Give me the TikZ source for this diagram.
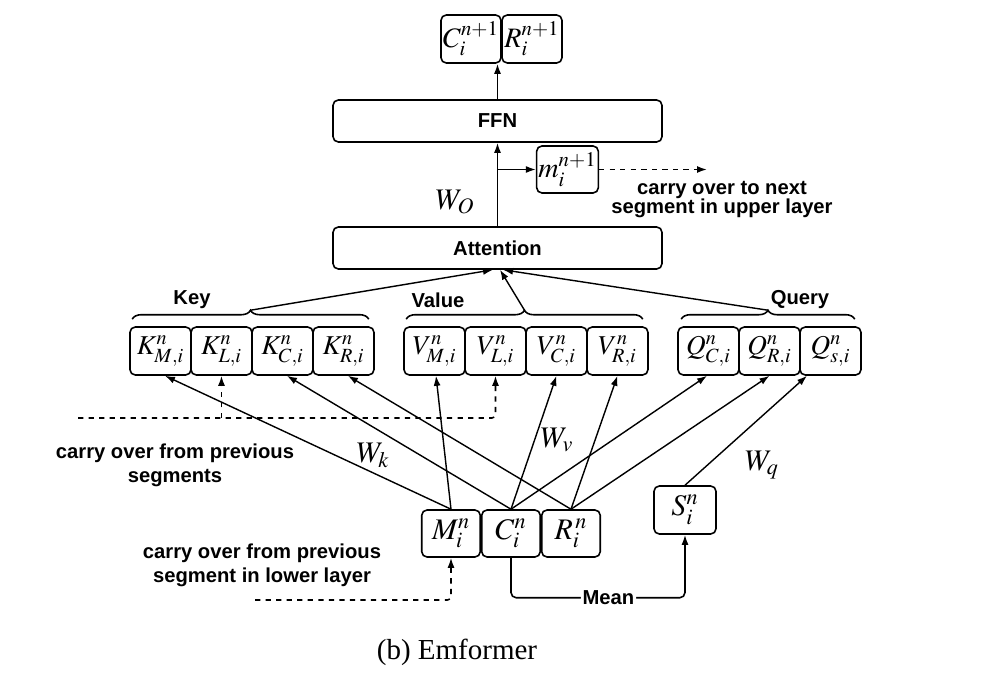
\documentclass[tikz,border=0pt]{standalone}
\usepackage{mathptmx}
\usepackage{fontspec}
\setmainfont{Liberation Serif}
\newfontfamily\labelfont{Liberation Sans}
\usetikzlibrary{positioning, arrows.meta, decorations.pathreplacing}

\tikzset{
  box/.style={draw, rounded corners=3pt, line width=0.9pt, inner sep=1pt, align=center},
  kvq/.style={box, minimum width=1.22cm, minimum height=0.96cm, font=\fontsize{15.5}{17}\selectfont},
  seg/.style={box, minimum width=1.17cm, minimum height=0.94cm, font=\fontsize{17}{19}\selectfont},
  outbox/.style={box, minimum width=1.2cm, minimum height=0.96cm, font=\fontsize{16}{18}\selectfont},
  layer/.style={box, minimum width=6.58cm, minimum height=0.84cm, font=\labelfont\bfseries\fontsize{11.5}{13}\selectfont},
  note/.style={align=center, font=\labelfont\bfseries\fontsize{11.5}{13.7}\selectfont},
  weight/.style={font=\fontsize{17}{19}\selectfont},
  link/.style={->, line width=0.8pt},
  carry/.style={->, dashed, line width=0.9pt, rounded corners=2pt},
  brace/.style={decorate, decoration={brace, amplitude=0.18cm}, line width=0.9pt},
}

\begin{document}
\begin{tikzpicture}[x=0.02cm, y=-0.02cm, node distance=1.22cm, on grid,
    >={Latex[length=2mm,width=1.4mm]}, line width=0.9pt]
    \useasboundingbox (0,0) rectangle (985,689);

    % Layer output and memory
    \node[outbox] (cout) at (471,39) {$C^{n+1}_i$};
    \node[outbox, right=of cout] (rout) {$R^{n+1}_i$};
    \node[layer] (ffn) at (497.5,121) {FFN};
    \node[outbox, minimum height=0.94cm] (mem) at (567.5,169.5) {$m^{n+1}_i$};
    \node[layer] (att) at (497.5,248) {Attention};

    % Key, value, query
    \node[kvq] (km) at (160.5,351) {$K^n_{M,i}$};
    \node[kvq, right=of km] (kl) {$K^n_{L,i}$};
    \node[kvq, right=of kl] (kc) {$K^n_{C,i}$};
    \node[kvq, right=of kc] (kr) {$K^n_{R,i}$};
    \node[kvq] (vm) at (434.5,351) {$V^n_{M,i}$};
    \node[kvq, right=of vm] (vl) {$V^n_{L,i}$};
    \node[kvq, right=of vl] (vc) {$V^n_{C,i}$};
    \node[kvq, right=of vc] (vr) {$V^n_{R,i}$};
    \node[kvq] (qc) at (708.5,351) {$Q^n_{C,i}$};
    \node[kvq, right=of qc] (qr) {$Q^n_{R,i}$};
    \node[kvq, right=of qr] (qs) {$Q^n_{s,i}$};

    % Current segment
    \node[seg] (mi) at (451,533.5) {$M^n_i$};
    \node[seg, right=1.2cm of mi] (ci) {$C^n_i$};
    \node[seg, right=1.2cm of ci] (ri) {$R^{\mkern2mu n}_i$};
    \node[seg, minimum width=1.24cm, minimum height=0.96cm] (si) at (685,510) {$S^n_i$};

    % Braces
    \draw[brace] ([shift={(0.06cm,0.14cm)}]km.north west) -- ([shift={(-0.12cm,0.14cm)}]kr.north east)
        coordinate[midway, yshift=0.18cm] (keytip);
    \draw[brace] ([shift={(0.06cm,0.14cm)}]vm.north west) -- ([shift={(-0.12cm,0.14cm)}]vr.north east)
        coordinate[midway, yshift=0.18cm] (valtip);
    \draw[brace] ([shift={(0.08cm,0.14cm)}]qc.north west) -- ([shift={(-0.14cm,0.14cm)}]qs.north east)
        coordinate[midway, yshift=0.18cm] (qtip);
    \node[note] (keylbl) at (192,300) {Key};
    \node[note] (vallbl) at (438,300) {Value};
    \node[note] (qlbl) at (800,300) {Query};

    % Into attention, FFN and out
    \draw[link] (keytip) -- ([xshift=-0.09cm]att.south);
    \draw[link] (valtip) -- ([xshift=0.05cm]att.south);
    \draw[link] (qtip) -- ([xshift=0.11cm]att.south);
    \draw[->] (att.north) -- (ffn.south);
    \draw[->] (att.north |- mem.west) -- (mem.west);
    \draw[->] (ffn.north) -- (ffn.north |- cout.south);
    \node[weight] (wo) at (455,202) {$W_O$};

    % Projections
    \draw[link] (mi.north) -- ([xshift=0.09cm]km.south);
    \draw[link] (mi.north) -- ([xshift=0.03cm]vm.south);
    \draw[link] (ci.north) -- ([xshift=0.09cm]kc.south);
    \draw[link] (ci.north) -- (vc.south);
    \draw[link] (ci.north) -- ([xshift=-0.03cm]qc.south);
    \draw[link] (ri.north) -- ([xshift=0.09cm]kr.south);
    \draw[link] (ri.north) -- (vr.south);
    \draw[link] (ri.north) -- (qr.south);
    \draw[link] (si.north) -- ([xshift=-0.47cm]qs.south);
    \node[weight] (wk) at (373,455) {$W_k$};
    \node[weight] (wv) at (557,440) {$W_v$};
    \node[weight] (wq) at (762,465) {$W_q$};

    % Mean of the segment
    \draw[->, rounded corners=3pt] (ci.south) -- ++(0,40) -| node[pos=0.28, fill=white, inner sep=1pt, note] (meanlbl) {Mean} (si.south);

    % Carried over
    \coordinate (nextseg) at (707,167);
    \coordinate (prevseg) at (78,418);
    \coordinate (lowseg) at (255,600);
    \draw[carry] (mem.east) -- (mem.east -| nextseg);
    \draw[carry] (prevseg) -| (vl.south);
    \draw[carry] (kl.south |- prevseg) -- (kl.south);
    \draw[carry] (lowseg) -| (mi.south);
    \node[note] (nextlbl) at (722,200) {carry over to next\\[-0.1cm]segment in upper layer};
    \node[note] (prevlbl) at (175,465) {carry over from previous\\segments};
    \node[note] (lowlbl) at (262,565) {carry over from previous\\segment in lower layer};

    \node[font=\fontsize{16.5}{19}\selectfont] (caption) at (457,652) {(b) Emformer};
\end{tikzpicture}
\end{document}
